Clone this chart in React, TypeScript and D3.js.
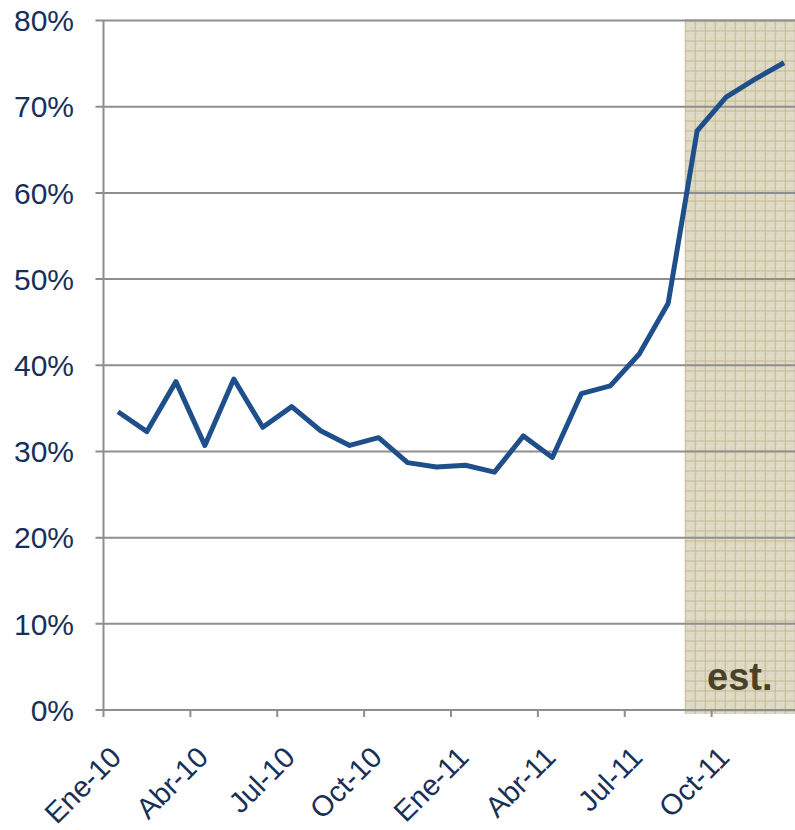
import React from "react";
import * as d3 from "d3";

const months = [
  "Ene-10","Feb-10","Mar-10","Abr-10","May-10","Jun-10","Jul-10","Ago-10","Sep-10","Oct-10","Nov-10","Dic-10",
  "Ene-11","Feb-11","Mar-11","Abr-11","May-11","Jun-11","Jul-11","Ago-11","Sep-11","Oct-11","Nov-11","Dic-11",
];
const values = [
  34.6, 32.3, 38.1, 30.7, 38.4, 32.8, 35.2, 32.4, 30.7, 31.6, 28.7, 28.2,
  28.4, 27.6, 31.8, 29.3, 36.7, 37.6, 41.3, 47.2, 67.2, 71.1, 73.2, 75.1,
];
const yTicks = [0, 10, 20, 30, 40, 50, 60, 70, 80];
const labelEvery = 3;
const estStart = 20; // index of first estimated month
const estLabel = "est.";

export default function App() {
  const W = 795, H = 830;
  const left = 103.5, right = 798.5, top = 20.5, bottom = 710;
  const n = months.length;
  const x = d3.scaleLinear().domain([0, n]).range([left, right]);
  const y = d3.scaleLinear().domain([0, 80]).range([bottom, top]);
  const cx = (i: number) => x(i + 0.5);
  const line = d3.line<number>().x((_, i) => cx(i)).y((d) => y(d));
  const textColor = "#17305a";
  const gridColor = "#8e8e8e";
  const fontFamily = "'Liberation Sans', Arial, sans-serif";
  const tickIdx = d3.range(0, n + 1, labelEvery);
  const labelIdx = d3.range(0, n, labelEvery);
  const shadeX0 = x(estStart) + 2;
  const shadeX1 = W;

  return (
    <div style={{ position: "absolute", left: 0, top: 0 }}>
      <svg width={W} height={H} style={{ display: "block" }}>
        <defs>
          <pattern id="hatch" width="10" height="10" patternUnits="userSpaceOnUse" x={shadeX0} y={top}>
            <rect width="10" height="10" fill="#dedac6" />
            <rect x="2" y="3" width="1" height="1" fill="#d0caaf" />
            <rect x="6" y="7" width="1" height="1" fill="#d0caaf" />
            <rect x="4" y="5" width="1" height="1" fill="#e8e5d6" />
            <rect x="0" y="0" width="10" height="1" fill="#c2b88e" />
            <rect x="0" y="0" width="1" height="10" fill="#c2b88e" />
          </pattern>
        </defs>
        <rect x={0} y={0} width={W} height={H} fill="#ffffff" />
        <rect x={shadeX0} y={top - 1.5} width={shadeX1 - shadeX0} height={bottom + 4 - (top - 1.5)} fill="url(#hatch)" />
        {yTicks.map((t) => (
          <line key={"g" + t} x1={left - 8} x2={W} y1={y(t)} y2={y(t)} stroke={gridColor} strokeWidth={2} />
        ))}
        <line x1={left} x2={left} y1={top} y2={bottom} stroke={gridColor} strokeWidth={2} />
        {tickIdx.map((i) => (
          <line key={"t" + i} x1={x(i)} x2={x(i)} y1={bottom} y2={bottom + 7} stroke={gridColor} strokeWidth={2} />
        ))}
        {yTicks.map((t) => (
          <text key={"yl" + t} x={74} y={y(t)} dy="0.36em" textAnchor="end" fontFamily={fontFamily} fontSize={30} fill={textColor}>
            {t + "%"}
          </text>
        ))}
        {labelIdx.map((i) => (
          <text
            key={"xl" + i}
            transform={`translate(${cx(i) + 5},${759}) rotate(-45)`}
            textAnchor="end"
            fontFamily={fontFamily}
            fontSize={29}
            fill={textColor}
          >
            {months[i]}
          </text>
        ))}
        <text
          x={(shadeX0 + shadeX1) / 2}
          y={690}
          textAnchor="middle"
          fontFamily={fontFamily}
          fontSize={38}
          fontWeight="bold"
          fill="#4a4228"
        >
          {estLabel}
        </text>
        <path d={line(values) || ""} fill="none" stroke="#1f4f8a" strokeWidth={5} strokeLinejoin="round" />
      </svg>
    </div>
  );
}
